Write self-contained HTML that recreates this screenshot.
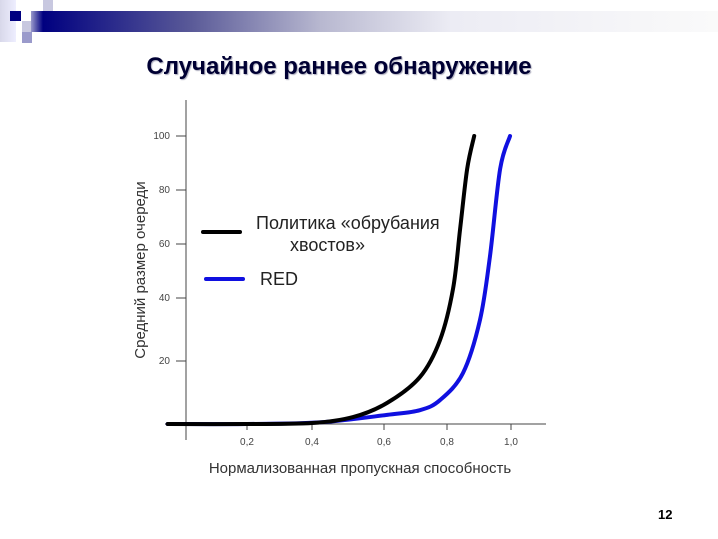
<!DOCTYPE html>
<html><head><meta charset="utf-8"><style>
body{margin:0;width:718px;height:539px;background:#fff;overflow:hidden;font-family:"Liberation Sans",sans-serif;position:relative}
.sq{position:absolute}
</style></head><body>
<div class="sq" style="left:0;top:0;width:16px;height:42px;background:linear-gradient(90deg,#d8d8ea,#eef)"></div>
<div class="sq" style="left:10px;top:11px;width:11px;height:10px;background:#000080"></div>
<div class="sq" style="left:43px;top:0;width:10px;height:11px;background:#c8c8e0"></div>
<div class="sq" style="left:32px;top:11px;width:11px;height:10px;background:#c8c8e0"></div>
<div class="sq" style="left:22px;top:21px;width:10px;height:11px;background:#c8c8e0"></div>
<div class="sq" style="left:22px;top:32px;width:10px;height:11px;background:#9a9acb"></div>
<div class="sq" style="left:31px;top:11px;width:687px;height:21px;background:linear-gradient(90deg,#9a9acb 0px,#000080 12px,#5a5a98 160px,#b8b8d0 290px,#ececf4 420px,#fafafa 687px)"></div>
<div style="position:absolute;left:0;width:678px;top:53px;text-align:center;font-weight:bold;font-size:24px;color:#000033;text-shadow:1px 1px 1px #aab">Случайное раннее обнаружение</div>
<div style="position:absolute;left:658px;top:507px;font-weight:bold;font-size:13px">12</div>
<svg id="chart" width="718" height="539" style="position:absolute;left:0;top:0" xmlns="http://www.w3.org/2000/svg"></svg>
<script>
const xTicks=[0,0.2,0.4,0.6,0.8,1.0];
const xTickLabels=["","0,2","0,4","0,6","0,8","1,0"];
const yTicks=[0,20,40,60,80,100];
const yTickLabels=["","20","40","60","80","100"];
const blackX=[-0.06,0.2,0.4,0.514,0.61,0.714,0.778,0.819,0.841,0.863,0.885];
const blackY=[0,0,0.3,2.2,6.7,14.9,26.7,43.5,65.6,87.8,100];
const blueX=[-0.06,0.2,0.42,0.61,0.714,0.778,0.85,0.903,0.934,0.966,0.997];
const blueY=[0,0,0.5,2.9,4.4,7.6,16.2,33,55.2,87.8,100];
const xPix=[186,247,312,384,447,511];
const yPix=[424,361,298,244,190,136];
function pw(v,d,r){let i=0;while(i<d.length-2&&v>d[i+1])i++;return r[i]+(v-d[i])/(d[i+1]-d[i])*(r[i+1]-r[i]);}
const sx=v=>pw(v,xTicks,xPix), sy=v=>pw(v,yTicks,yPix);
const svg=document.getElementById('chart');const NS="http://www.w3.org/2000/svg";
function mk(t,a,txt){const e=document.createElementNS(NS,t);for(const k in a)e.setAttribute(k,a[k]);if(txt!==undefined)e.textContent=txt;svg.appendChild(e);return e;}
let e=mk('line',{x1:186,y1:100,x2:186,y2:440,stroke:'#444','stroke-width':1});


e=mk('line',{x1:165,y1:424,x2:546,y2:424,stroke:'#444','stroke-width':1});


xTicks.forEach((t,i)=>{if(!xTickLabels[i])return;const x=sx(t);
 e=mk('line',{x1:x,y1:424,x2:x,y2:430,stroke:'#444'});
 
 
 e=mk('text',{x:x,y:445,'font-size':10,'text-anchor':'middle',fill:'#444'},xTickLabels[i]);
 
 });
yTicks.forEach((t,i)=>{if(!yTickLabels[i])return;const y=sy(t);
 e=mk('line',{x1:176,y1:y,x2:186,y2:y,stroke:'#444'});
 
 
 e=mk('text',{x:170,y:y+3,'font-size':10,'text-anchor':'end',fill:'#444'},yTickLabels[i]);
 
 });
e=mk('text',{x:360,y:473,'font-size':15,'text-anchor':'middle',fill:'#333'},'Нормализованная пропускная способность');


e=mk('text',{x:0,y:0,'font-size':15,'text-anchor':'middle',fill:'#333',transform:'translate(145,270) rotate(-90)'},'Средний размер очереди');


function path(X,Y){const p=X.map((x,i)=>[sx(x),sy(Y[i])]);let d='M'+p[0][0]+','+p[0][1];
 for(let i=0;i<p.length-1;i++){const p0=p[i-1]||p[i],p1=p[i],p2=p[i+1],p3=p[i+2]||p2;
 d+=' C'+(p1[0]+(p2[0]-p0[0])/6)+','+(p1[1]+(p2[1]-p0[1])/6)+' '+(p2[0]-(p3[0]-p1[0])/6)+','+(p2[1]-(p3[1]-p1[1])/6)+' '+p2[0]+','+p2[1];}return d;}
e=mk('path',{d:path(blueX,blueY),fill:'none',stroke:'#1010e0','stroke-width':4,'stroke-linecap':'round'});


e=mk('path',{d:path(blackX,blackY),fill:'none',stroke:'#000','stroke-width':4,'stroke-linecap':'round'});


e=mk('line',{x1:203,y1:232,x2:240,y2:232,stroke:'#000','stroke-width':4,'stroke-linecap':'round'});


e=mk('text',{x:256,y:229,'font-size':18,fill:'#222'},'Политика «обрубания');


e=mk('text',{x:290,y:251,'font-size':18,fill:'#222'},'хвостов»');


e=mk('line',{x1:206,y1:279,x2:243,y2:279,stroke:'#1010e0','stroke-width':4,'stroke-linecap':'round'});


e=mk('text',{x:260,y:285,'font-size':18,fill:'#222'},'RED');


</script>
</body></html>
